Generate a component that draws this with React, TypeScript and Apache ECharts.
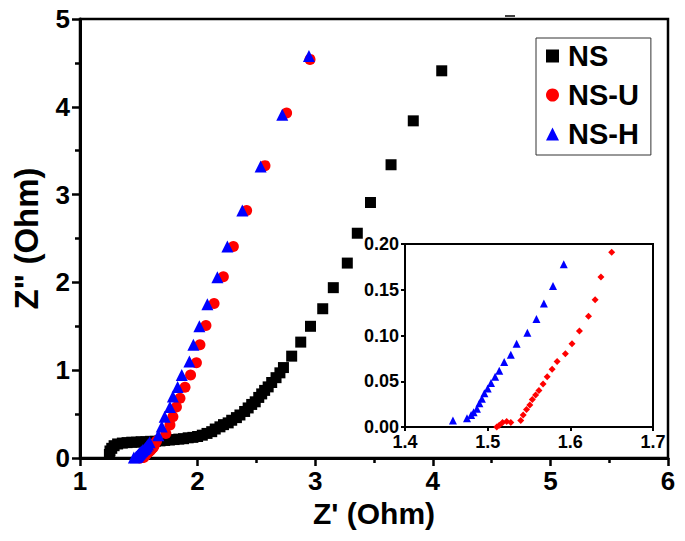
import React, { useEffect, useRef } from "react";
import * as echarts from "echarts";

// NS (black squares), main plot
const NS_DATA: number[][] = [
  [1.25, 0.04], [1.255, 0.08], [1.27, 0.11], [1.29, 0.14], [1.32, 0.16],
  [1.36, 0.17], [1.40, 0.175], [1.44, 0.18], [1.48, 0.18], [1.52, 0.185],
  [1.56, 0.185], [1.60, 0.19], [1.64, 0.19], [1.68, 0.195], [1.72, 0.2],
  [1.76, 0.205], [1.80, 0.21], [1.84, 0.215], [1.88, 0.22], [1.92, 0.23],
  [1.96, 0.235], [2.0, 0.245], [2.04, 0.26], [2.08, 0.28], [2.12, 0.3],
  [2.15, 0.33], [2.19, 0.355], [2.22, 0.38], [2.26, 0.4], [2.29, 0.43],
  [2.33, 0.46], [2.36, 0.49], [2.4, 0.53], [2.43, 0.57], [2.46, 0.61],
  [2.49, 0.64], [2.52, 0.69], [2.545, 0.73], [2.57, 0.77], [2.6, 0.81],
  [2.63, 0.86], [2.667, 0.915], [2.7, 0.97], [2.73, 1.03], [2.8, 1.16],
  [2.877, 1.32], [2.96, 1.5], [3.064, 1.7], [3.154, 1.94], [3.273, 2.22],
  [3.358, 2.56], [3.47, 2.91], [3.645, 3.34], [3.834, 3.84], [4.076, 4.41],
];

// NS-U low-frequency region (inset)
const NSU_INSET: number[][] = [
  [1.511, 0.0], [1.514, 0.002], [1.518, 0.005], [1.523, 0.006], [1.528, 0.005],
  [1.54, 0.007], [1.543, 0.013], [1.547, 0.019], [1.551, 0.024], [1.554, 0.03],
  [1.558, 0.035], [1.562, 0.04], [1.567, 0.047], [1.572, 0.055], [1.578, 0.063],
  [1.584, 0.0715], [1.594, 0.08], [1.602, 0.091], [1.611, 0.105], [1.622, 0.121],
  [1.63, 0.139], [1.637, 0.164], [1.65, 0.191],
];
// NS-U higher values (main plot)
const NSU_UPPER: number[][] = [
  [1.73, 0.28], [1.765, 0.375], [1.79, 0.47], [1.82, 0.58], [1.85, 0.68],
  [1.893, 0.805], [1.94, 0.945], [1.99, 1.085], [2.02, 1.29], [2.071, 1.51],
  [2.14, 1.76], [2.219, 2.065], [2.304, 2.41], [2.417, 2.82], [2.573, 3.33],
  [2.757, 3.93], [2.956, 4.54],
];

// NS-H low-frequency region (inset)
const NSH_INSET: number[][] = [
  [1.458, 0.007], [1.475, 0.0095], [1.48, 0.013], [1.483, 0.016], [1.487, 0.02],
  [1.49, 0.026], [1.493, 0.031], [1.496, 0.037], [1.5, 0.042], [1.504, 0.048],
  [1.509, 0.055], [1.514, 0.0615], [1.52, 0.071], [1.528, 0.079], [1.535, 0.091],
  [1.548, 0.103], [1.559, 0.118], [1.568, 0.135], [1.579, 0.154], [1.592, 0.178],
];
// NS-H higher values (main plot)
const NSH_UPPER: number[][] = [
  [1.666, 0.26], [1.695, 0.36], [1.72, 0.47], [1.765, 0.58], [1.79, 0.7],
  [1.83, 0.81], [1.865, 0.945], [1.93, 1.1], [1.964, 1.29], [2.015, 1.5],
  [2.083, 1.75], [2.168, 2.06], [2.253, 2.41], [2.38, 2.82], [2.536, 3.32],
  [2.72, 3.91], [2.947, 4.58],
];

const SERIES_NAMES = ["NS", "NS-U", "NS-H"];
const COLORS = ["#000000", "#ff0000", "#0000ff"];

const FONT = 'Arial, "Liberation Sans", sans-serif';

export default function App() {
  const ref = useRef<HTMLDivElement>(null);
  useEffect(() => {
    if (!ref.current) return;
    const chart = echarts.init(ref.current, null, { renderer: "svg" });
    const mainAxisLabel = { color: "#000", fontSize: 26, fontWeight: "bold", fontFamily: FONT };
    const insetAxisLabel = { color: "#000", fontSize: 18, fontWeight: "bold", fontFamily: FONT };
    chart.setOption({
      animation: false,
      backgroundColor: "#fff",
      grid: [
        { left: 80, right: 17, top: 19, bottom: 83, show: true, borderColor: "#000", borderWidth: 2.5, backgroundColor: "transparent" },
        { left: 405, right: 32, top: 244, bottom: 114, show: true, borderColor: "#000", borderWidth: 2, backgroundColor: "#fff" },
      ],
      xAxis: [
        {
          gridIndex: 0, type: "value", min: 1, max: 6, interval: 1,
          name: "Z' (Ohm)", nameLocation: "middle", nameGap: 40,
          nameTextStyle: { color: "#000", fontSize: 30, fontWeight: "bold", fontFamily: FONT },
          axisLine: { show: true, lineStyle: { color: "#000", width: 3 } },
          axisTick: { show: true, length: 8, lineStyle: { color: "#000", width: 2.5 } },
          minorTick: { show: true, splitNumber: 2, length: 5, lineStyle: { color: "#000", width: 2.5 } },
          axisLabel: { ...mainAxisLabel, margin: 10 },
          splitLine: { show: false },
        },
        {
          gridIndex: 1, type: "value", min: 1.4, max: 1.7, interval: 0.1,
          axisLine: { show: true, lineStyle: { color: "#000", width: 2 } },
          axisTick: { show: true, length: 4, lineStyle: { color: "#000", width: 2 } },
          axisLabel: { ...insetAxisLabel, margin: 6, formatter: (v: number) => v.toFixed(1) },
          splitLine: { show: false },
        },
      ],
      yAxis: [
        {
          gridIndex: 0, type: "value", min: 0, max: 5, interval: 1,
          name: 'Z" (Ohm)', nameLocation: "middle", nameGap: 37, nameRotate: 90,
          nameTextStyle: { color: "#000", fontSize: 33, fontWeight: "bold", fontFamily: FONT },
          axisLine: { show: true, lineStyle: { color: "#000", width: 3 } },
          axisTick: { show: true, length: 8, lineStyle: { color: "#000", width: 2.5 } },
          minorTick: { show: true, splitNumber: 2, length: 5, lineStyle: { color: "#000", width: 2.5 } },
          axisLabel: { ...mainAxisLabel, margin: 10 },
          splitLine: { show: false },
        },
        {
          gridIndex: 1, type: "value", min: 0, max: 0.2, interval: 0.05,
          axisLine: { show: true, lineStyle: { color: "#000", width: 2 } },
          axisTick: { show: true, length: 4, lineStyle: { color: "#000", width: 2 } },
          axisLabel: { ...insetAxisLabel, margin: 6, formatter: (v: number) => v.toFixed(2) },
          splitLine: { show: false },
        },
      ],
      legend: {
        data: SERIES_NAMES,
        orient: "vertical",
        left: 536,
        top: 38,
        width: 122,
        padding: [3, 12, 6, 10],
        itemGap: 9,
        itemWidth: 13,
        itemHeight: 13,
        borderColor: "#333",
        borderWidth: 1,
        backgroundColor: "#fff",
        textStyle: { color: "#000", fontSize: 29, fontWeight: "bold", fontFamily: FONT, lineHeight: 30, padding: [0, 0, 0, 4] },
      },
      graphic: [
        { type: "line", shape: { x1: 505, y1: 16, x2: 515, y2: 16 }, style: { stroke: "#000", lineWidth: 1.5 } },
      ],
      series: [
        {
          name: "NS", type: "scatter", xAxisIndex: 0, yAxisIndex: 0,
          symbol: "rect", symbolSize: 11, itemStyle: { color: COLORS[0], opacity: 1 },
          data: NS_DATA,
        },
        {
          name: "NS-U", type: "scatter", xAxisIndex: 0, yAxisIndex: 0,
          symbol: "circle", symbolSize: 11, itemStyle: { color: COLORS[1], opacity: 1 },
          data: NSU_INSET.concat(NSU_UPPER),
        },
        {
          name: "NS-H", type: "scatter", xAxisIndex: 0, yAxisIndex: 0,
          symbol: "triangle", symbolSize: 12, itemStyle: { color: COLORS[2], opacity: 1 },
          data: NSH_INSET.concat(NSH_UPPER),
        },
        {
          name: "NS-U inset", type: "scatter", xAxisIndex: 1, yAxisIndex: 1,
          symbol: "diamond", symbolSize: 7, itemStyle: { color: COLORS[1], opacity: 1 },
          data: NSU_INSET, z: 5,
        },
        {
          name: "NS-H inset", type: "scatter", xAxisIndex: 1, yAxisIndex: 1,
          symbol: "triangle", symbolSize: 8, itemStyle: { color: COLORS[2], opacity: 1 },
          data: NSH_INSET, z: 5,
        },
      ],
    });
    return () => chart.dispose();
  }, []);
  return <div ref={ref} style={{ width: 685, height: 541, position: "absolute", left: 0, top: 0 }} />;
}
